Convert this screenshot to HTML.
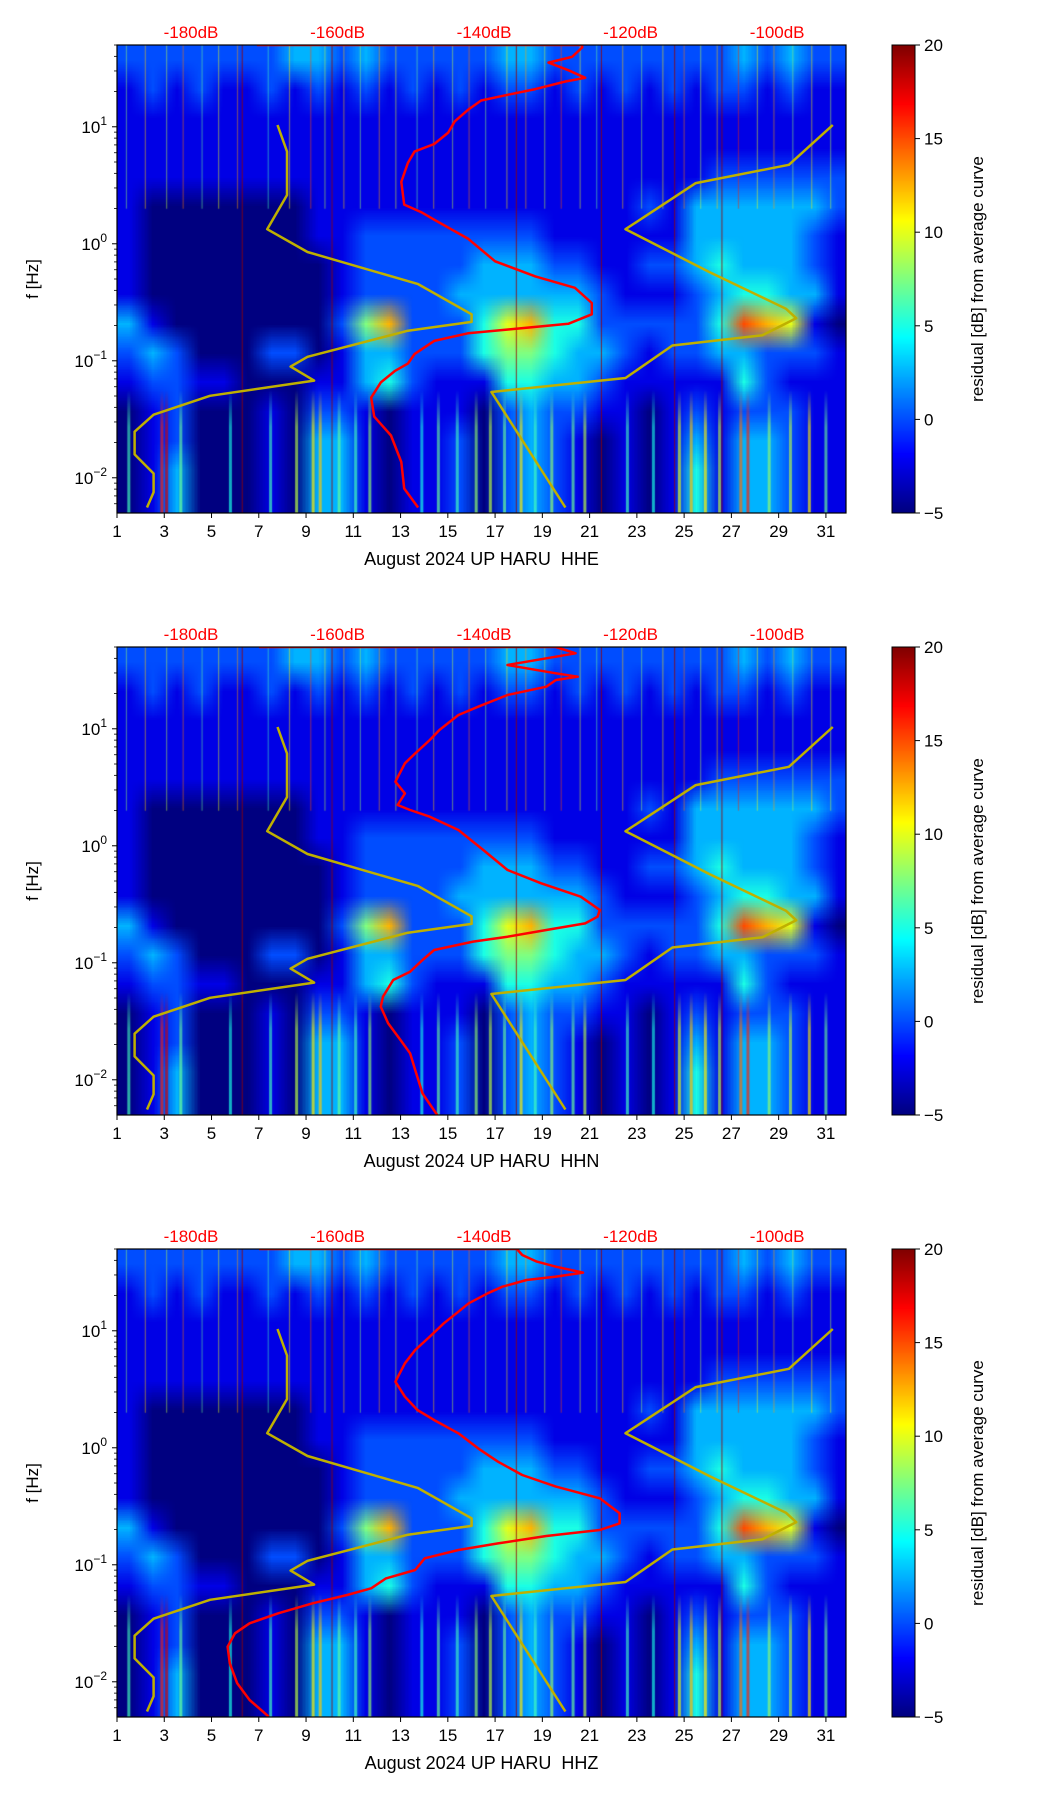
<!DOCTYPE html>
<html><head><meta charset="utf-8">
<style>
html,body{margin:0;padding:0;background:#fff;}
#wrap{position:relative;width:1052px;height:1806px;overflow:hidden;font-family:"Liberation Sans","DejaVu Sans",sans-serif;}
canvas{position:absolute;}
svg{position:absolute;left:0;top:0;}
</style></head>
<body>
<div id="wrap">
<canvas id="c0" width="729" height="468" style="left:117px;top:45px"></canvas>
<canvas id="c1" width="729" height="468" style="left:117px;top:647px"></canvas>
<canvas id="c2" width="729" height="468" style="left:117px;top:1249px"></canvas>
<canvas id="cb0" width="23" height="468" style="left:892px;top:45px"></canvas>
<canvas id="cb1" width="23" height="468" style="left:892px;top:647px"></canvas>
<canvas id="cb2" width="23" height="468" style="left:892px;top:1249px"></canvas>
<svg id="ov" width="1052" height="1806" xmlns="http://www.w3.org/2000/svg"></svg>
</div>
<script>
// ---- data ----
const channels = ["HHE","HHN","HHZ"];
const dbTicks = [-180,-160,-140,-120,-100];
const dayTicks = [1,3,5,7,9,11,13,15,17,19,21,23,25,27,29,31];
const cbTicks = [-5,0,5,10,15,20];
const decades = [-2,-1,0,1];
const nlnmDb = [-186.0,-185.1,-185.1,-187.7,-187.7,-185.1,-177.4,-163.2,-166.4,-164.1,-150.4,-141.7,-141.7,-149.0,-164.1,-169.6,-166.9,-166.9,-168.2];
const nlnmLogF = [-2.254,-2.124,-1.963,-1.800,-1.606,-1.461,-1.299,-1.169,-1.050,-0.966,-0.743,-0.668,-0.603,-0.345,-0.070,0.125,0.416,0.789,1.015];
const nhnmDb = [-128.9,-139.0,-120.7,-114.3,-102.0,-97.4,-98.8,-109.3,-120.7,-111.1,-98.4,-92.4];
const nhnmLogF = [-2.254,-1.267,-1.147,-0.869,-0.781,-0.636,-0.555,-0.240,0.125,0.519,0.675,1.015];
const redDbHHE = [-171,-126.6,-126.6,-128.0,-131.2,-128.5,-126.2,-128.9,-133.0,-136.7,-140.4,-142.2,-144.0,-144.9,-146.8,-149.5,-150.4,-151.3,-150.9,-148.6,-146.8,-142.2,-138.5,-133.0,-127.6,-125.3,-125.3,-128.5,-136.7,-142.2,-146.8,-149.5,-150.4,-152.2,-154.1,-155.4,-155.0,-152.7,-151.3,-150.9,-149.0];
const redLogFHHE = [1.699,1.699,1.678,1.597,1.549,1.484,1.419,1.387,1.322,1.274,1.225,1.144,1.047,0.950,0.853,0.788,0.691,0.529,0.335,0.271,0.206,0.044,-0.150,-0.279,-0.376,-0.506,-0.603,-0.684,-0.733,-0.765,-0.830,-0.943,-1.024,-1.088,-1.185,-1.315,-1.477,-1.639,-1.865,-2.092,-2.254];
const redDbHHN = [-170.7,-130.2,-127.5,-136.8,-130.2,-127.2,-130.2,-131.5,-136.8,-140.8,-143.5,-146.1,-147.4,-149.4,-150.8,-152.1,-150.8,-151.8,-150.1,-147.4,-143.5,-140.1,-136.8,-132.2,-126.8,-124.2,-124.5,-126.2,-131.5,-136.8,-141.5,-146.8,-148.4,-150.1,-152.4,-153.8,-154.1,-153.1,-151.4,-150.1,-149.4,-148.4,-146.4];
const redLogFHHN = [1.699,1.699,1.645,1.545,1.474,1.445,1.417,1.360,1.289,1.189,1.118,0.990,0.904,0.790,0.705,0.548,0.448,0.349,0.306,0.249,0.135,-0.036,-0.207,-0.321,-0.435,-0.549,-0.606,-0.663,-0.720,-0.777,-0.819,-0.891,-0.976,-1.076,-1.147,-1.289,-1.375,-1.517,-1.660,-1.774,-1.916,-2.116,-2.301];
const redDbHHZ = [-170.7,-135.5,-134.8,-132.8,-130.2,-126.5,-130.2,-134.2,-137.5,-139.5,-142.1,-143.5,-145.5,-147.4,-149.4,-150.8,-152.1,-150.8,-149.1,-146.8,-143.5,-140.8,-138.1,-134.8,-130.2,-124.2,-121.5,-121.5,-124.2,-131.5,-138.1,-143.5,-148.1,-149.4,-153.4,-155.4,-158.7,-163.4,-168.1,-172.0,-174.0,-175.0,-174.7,-173.7,-172.0,-169.4];
const redLogFHHZ = [1.699,1.699,1.648,1.591,1.548,1.497,1.463,1.434,1.377,1.320,1.235,1.163,1.064,0.950,0.836,0.722,0.565,0.437,0.323,0.237,0.124,-0.005,-0.119,-0.233,-0.332,-0.432,-0.560,-0.646,-0.703,-0.754,-0.817,-0.874,-0.945,-1.045,-1.116,-1.201,-1.258,-1.329,-1.415,-1.500,-1.586,-1.700,-1.842,-2.013,-2.156,-2.298];
const residualRows = [
"2222222332322222332222222232322",
"1212112121212121221212121221211",
"1111111111111111111111111111111",
"1111111111111111111111111111111",
"1111111111111111111111111222222",
"1000000011111111111111213333332",
"1000000011222222221111113333321",
"1000000001222223332211223433321",
"1000000001222233333321112344331",
"3100000002572224674422222487610",
"2320002201332224554332122332221",
"1221100011342111443321111142111",
"0120001022101110232211012122211",
"0120001033101120232101013133211",
"0130001033101120232101014133211",
"0130001033101120232101014133211"];
const streakDays = [1.4,2.2,3.1,3.8,4.6,5.3,6.1,7.4,8.3,9.2,9.8,10.6,11.3,12.1,12.8,13.7,14.4,15.2,15.9,16.6,17.5,18.3,19.1,19.8,20.6,21.3,22.4,23.2,24.1,25.0,25.7,26.4,27.3,28.1,28.8,29.6,30.4,31.2];
const streakDb = [8,12,9,14,7,10,13,6,11,15,9,12,8,13,10,7,12,9,14,8,11,13,9,15,10,7,12,8,11,14,9,12,16,10,13,8,11,9];
// low-frequency transients below 0.06 Hz: day, residual dB
const lowStreakDays = [1.5,2.9,3.1,3.7,5.8,7.5,8.6,9.3,9.6,10.4,11.1,11.7,13.9,14.6,15.4,16.2,16.8,17.4,18.1,18.7,19.4,20.3,20.8,22.6,23.7,24.8,25.3,25.9,26.5,27.4,27.7,28.6,29.5,30.3,31.0];
const lowStreakDb = [6,16,18,7,5,6,9,11,12,7,6,8,5,7,6,8,9,7,11,6,8,7,9,6,5,10,12,11,9,14,16,8,9,11,7];
const lineDays = [6.3,10.1,17.9,21.5,24.6,26.6];

// ---- scales ----
const X0=117, PW=729, PH=468, tops=[45,647,1249];
const dayMin=1, dayMax=31.85, dbMin=-190.1, dbMax=-90.6, lfMax=1.699, lfMin=-2.301;
const dayX = d => X0 + (d-dayMin)/(dayMax-dayMin)*PW;
const dbX = v => X0 + (v-dbMin)/(dbMax-dbMin)*PW;
const fY = (lf,top) => top + (lfMax-lf)/(lfMax-lfMin)*PH;

function jet(t){
  t=Math.max(0,Math.min(1,t));
  const r=Math.max(0,Math.min(1,Math.min(4*t-1.5,-4*t+4.5)));
  const g=Math.max(0,Math.min(1,Math.min(4*t-0.5,-4*t+3.5)));
  const b=Math.max(0,Math.min(1,Math.min(4*t+0.5,-4*t+2.5)));
  return [Math.round(r*255),Math.round(g*255),Math.round(b*255)];
}
const dbT = v => (v+5)/25;

for(let p=0;p<3;p++){
  const cv=document.getElementById('c'+p), ctx=cv.getContext('2d');
  const off=document.createElement('canvas'); off.width=31; off.height=residualRows.length;
  const oc=off.getContext('2d'); const img=oc.createImageData(31,residualRows.length);
  residualRows.forEach((row,ri)=>{
    for(let ci=0;ci<31;ci++){
      const c=parseInt(row[ci]||'0',10); const col=jet(dbT(-5+2.5*c));
      const k=(ri*31+ci)*4; img.data[k]=col[0];img.data[k+1]=col[1];img.data[k+2]=col[2];img.data[k+3]=255;
    }
  });
  oc.putImageData(img,0,0);
  ctx.imageSmoothingEnabled=true;
  ctx.drawImage(off,0,0,PW*31/30.85,PH);
  streakDays.forEach((d,i)=>{
    const col=jet(dbT(streakDb[i]));
    ctx.strokeStyle='rgba('+col.join(',')+',0.45)'; ctx.lineWidth=1.2;
    const x=dayX(d)-X0; ctx.beginPath(); ctx.moveTo(x,0); ctx.lineTo(x,fY(0.3,0)); ctx.stroke();
  });
  lowStreakDays.forEach((d,i)=>{
    const col=jet(dbT(lowStreakDb[i]));
    const x=dayX(d)-X0, y0=fY(-1.25,0);
    const gr=ctx.createLinearGradient(0,y0,0,PH);
    gr.addColorStop(0,'rgba('+col.join(',')+',0)');
    gr.addColorStop(0.3,'rgba('+col.join(',')+',0.6)');
    gr.addColorStop(1,'rgba('+col.join(',')+',0.7)');
    ctx.strokeStyle=gr; ctx.lineWidth=3;
    ctx.beginPath(); ctx.moveTo(x,y0); ctx.lineTo(x,PH); ctx.stroke();
  });
  lineDays.forEach(d=>{
    ctx.strokeStyle='rgba(150,0,0,0.8)'; ctx.lineWidth=1;
    const x=dayX(d)-X0; ctx.beginPath(); ctx.moveTo(x,0); ctx.lineTo(x,PH); ctx.stroke();
  });
  const cb=document.getElementById('cb'+p).getContext('2d');
  for(let y=0;y<468;y++){const col=jet(1-y/467); cb.fillStyle='rgb('+col.join(',')+')'; cb.fillRect(0,y,23,1);}
}

const NS='http://www.w3.org/2000/svg', ov=document.getElementById('ov');
function mk(tag,attrs,parent){const e=document.createElementNS(NS,tag);for(const k in attrs)e.setAttribute(k,attrs[k]);(parent||ov).appendChild(e);return e;}
const redSets=[[redDbHHE,redLogFHHE],[redDbHHN,redLogFHHN],[redDbHHZ,redLogFHHZ]];
for(let p=0;p<3;p++){
  const top=tops[p], bot=top+PH;
  const g=mk('g',{});
  
  
  const cp=mk('clipPath',{id:'clip'+p},g); mk('rect',{x:X0,y:top,width:PW,height:PH},cp);
  const cg=mk('g',{'clip-path':'url(#clip'+p+')'},g);
  const path=(xs,ys)=>xs.map((v,i)=>(i?'L':'M')+dbX(v).toFixed(1)+','+fY(ys[i],top).toFixed(1)).join('');
  const l1=mk('path',{d:path(nlnmDb,nlnmLogF),fill:'none',stroke:'#bfb000','stroke-width':2.5,'stroke-linejoin':'round'},cg);
   
  const l2=mk('path',{d:path(nhnmDb,nhnmLogF),fill:'none',stroke:'#bfb000','stroke-width':2.5,'stroke-linejoin':'round'},cg);
   
  const l3=mk('path',{d:path(redSets[p][0],redSets[p][1]),fill:'none',stroke:'#ff0000','stroke-width':2.5,'stroke-linejoin':'round'},cg);
   
  const fr=mk('rect',{x:X0,y:top,width:PW,height:PH,fill:'none',stroke:'#000','stroke-width':1.2},g);
   
  dbTicks.forEach(v=>{
    const t=mk('text',{x:dbX(v),y:top-7,'text-anchor':'middle','font-size':17,fill:'#ff0000'},g); t.textContent=v+'dB';
     
  });
  dayTicks.forEach(d=>{
    const x=dayX(d); mk('line',{x1:x,x2:x,y1:bot,y2:bot+5,stroke:'#000','stroke-width':1},g);
    const t=mk('text',{x:x,y:bot+24,'text-anchor':'middle','font-size':17},g); t.textContent=d;
     
  });
  const xl=mk('text',{x:X0+PW/2,y:bot+52,'text-anchor':'middle','font-size':18},g);
  xl.textContent='August 2024 UP HARU \u00a0'+channels[p];
   
  decades.forEach(dc=>{
    const y=fY(dc,top); mk('line',{x1:X0-5,x2:X0,y1:y,y2:y,stroke:'#000','stroke-width':1},g);
    const t=mk('text',{x:X0-10,y:y+6,'text-anchor':'end','font-size':17},g);
    t.textContent='10';
    const s=mk('tspan',{dy:-8,'font-size':12},t); s.textContent=dc<0?'\u2212'+Math.abs(dc):String(dc);
     
  });
  for(let dc=-3;dc<=1;dc++){for(let m=2;m<=9;m++){const lf=dc+Math.log10(m); if(lf<lfMin||lf>lfMax)continue;
    const y=fY(lf,top); mk('line',{x1:X0-3,x2:X0,y1:y,y2:y,stroke:'#000','stroke-width':0.8},g);}}
  const yl=mk('text',{x:0,y:0,'text-anchor':'middle','font-size':17,transform:'translate(38,'+(top+PH/2)+') rotate(-90)'},g);
  yl.textContent='f [Hz]';  
  mk('rect',{x:892,y:top,width:23,height:PH,fill:'none',stroke:'#000','stroke-width':1},g);
  cbTicks.forEach(v=>{
    const y=top+(1-dbT(v))*PH; mk('line',{x1:915,x2:920,y1:y,y2:y,stroke:'#000','stroke-width':1},g);
    const t=mk('text',{x:924,y:y+6,'font-size':17},g); t.textContent=(v<0?'\u2212':'')+Math.abs(v);
     
  });
  const cl=mk('text',{x:0,y:0,'text-anchor':'middle','font-size':17,transform:'translate(983,'+(top+PH/2)+') rotate(-90)'},g);
  cl.textContent='residual [dB] from average curve';
   
}
</script>
</body></html>
